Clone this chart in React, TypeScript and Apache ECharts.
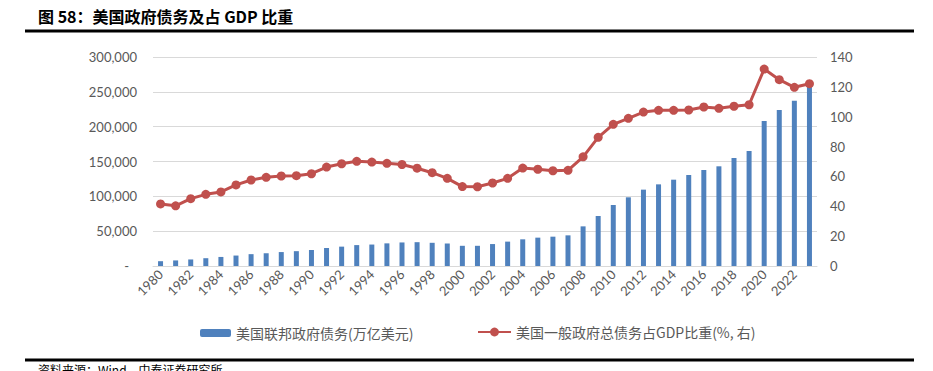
import React, { useEffect, useRef } from "react";
import * as echarts from "echarts";

const years: string[] = [];
for (let y = 1980; y <= 2023; y++) years.push(String(y));

const federalDebt = [
  6900, 8000, 9400, 11200, 13000, 15000, 17000, 18300, 20000, 21300,
  23000, 25800, 27800, 30000, 30800, 32500, 33800, 34200, 33300, 32300,
  29000, 29000, 31500, 35000, 38300, 40700, 42100, 44000, 56900, 71800,
  87600, 98600, 109600, 117200, 123900, 130600, 137800, 143100, 155000, 165100,
  208100, 223900, 237300, 257500,
];

const debtToGdp = [
  41.6, 40.3, 45.1, 48, 49.6, 54.3, 57.6, 59.4, 60.3, 60.5,
  61.8, 66.3, 68.5, 70.1, 69.6, 68.8, 68, 65.5, 62.5, 58.7,
  53.2, 53.1, 55.6, 58.7, 65.6, 64.8, 63.8, 64.1, 73.1, 86.2,
  94.9, 98.9, 103.1, 104.3, 104.3, 104.5, 106.5, 105.6, 107, 108,
  131.9, 124.8, 119.7, 122.1,
];

const titleText = "图 58：美国政府债务及占 GDP 比重";
const barName = "美国联邦政府债务(万亿美元)";
const lineName = "美国一般政府总债务占GDP比重(%, 右)";
const sourceText = "资料来源：Wind，中泰证券研究所";

const labelColor = "#595959";
const axisFont = "Lato, 'Open Sans', sans-serif";
const cjkFont = "'Noto Sans CJK SC', sans-serif";

export default function App() {
  const ref = useRef<HTMLDivElement>(null);
  useEffect(() => {
    document.body.style.margin = "0";
    if (!ref.current) return;
    const chart = echarts.init(ref.current, null, { renderer: "svg" });
    chart.setOption({
      animation: false,
      backgroundColor: "#fff",
      grid: { left: 153, right: 116, top: 57, bottom: 105 },
      graphic: [
        {
          type: "text",
          left: 38,
          top: 8,
          style: {
            text: titleText,
            font: "bold 16px " + cjkFont,
            fill: "#000",
          },
        },
        {
          type: "line",
          shape: { x1: 25, y1: 31, x2: 914, y2: 31 },
          style: { stroke: "#000", lineWidth: 3 },
        },
        {
          type: "line",
          shape: { x1: 25, y1: 360, x2: 914, y2: 360 },
          style: { stroke: "#000", lineWidth: 3 },
        },
        {
          type: "text",
          left: 38,
          top: 363,
          style: {
            text: sourceText,
            font: "12px " + cjkFont,
            fill: "#000",
          },
        },
      ],
      legend: [
        {
          data: [barName],
          left: 195,
          top: 321,
          itemWidth: 31,
          itemHeight: 8,
          textStyle: { color: labelColor, fontSize: 14, fontFamily: cjkFont },
        },
        {
          data: [lineName],
          left: 472,
          top: 320,
          itemWidth: 33,
          itemHeight: 11,
          textStyle: { color: labelColor, fontSize: 14, fontFamily: cjkFont },
        },
      ],
      xAxis: {
        type: "category",
        data: years,
        boundaryGap: true,
        axisLine: { lineStyle: { color: "#d9d9d9", width: 1 } },
        axisTick: { interval: 1, length: 5, lineStyle: { color: "#d9d9d9" } },
        axisLabel: {
          interval: 1,
          rotate: 45,
          margin: 6,
          color: labelColor,
          fontSize: 13,
          fontFamily: axisFont,
        },
      },
      yAxis: [
        {
          type: "value",
          min: 0,
          max: 300000,
          interval: 50000,
          axisLine: { show: false },
          axisTick: { show: false },
          splitLine: { lineStyle: { color: "#d9d9d9", width: 1 } },
          axisLabel: {
            margin: 16,
            color: labelColor,
            fontSize: 13,
            fontFamily: axisFont,
            formatter: (v: number) =>
              v === 0 ? "{z|-}" : v.toLocaleString("en-US"),
            rich: {
              z: {
                color: labelColor,
                fontSize: 13,
                fontFamily: axisFont,
                padding: [0, 8, 0, 0],
              },
            },
          },
        },
        {
          type: "value",
          min: 0,
          max: 140,
          interval: 20,
          position: "right",
          axisLine: { show: false },
          axisTick: { show: false },
          splitLine: { show: false },
          axisLabel: {
            margin: 13,
            color: labelColor,
            fontSize: 13,
            fontFamily: axisFont,
          },
        },
      ],
      series: [
        {
          name: barName,
          type: "bar",
          data: federalDebt,
          barWidth: 5,
          itemStyle: { color: "#4f81bd" },
        },
        {
          name: lineName,
          type: "line",
          yAxisIndex: 1,
          data: debtToGdp,
          symbol: "circle",
          symbolSize: 9,
          lineStyle: { color: "#c0504d", width: 3 },
          itemStyle: { color: "#c0504d" },
          z: 3,
        },
      ],
    });
    return () => chart.dispose();
  }, []);
  return <div ref={ref} style={{ width: 933, height: 371 }} />;
}
